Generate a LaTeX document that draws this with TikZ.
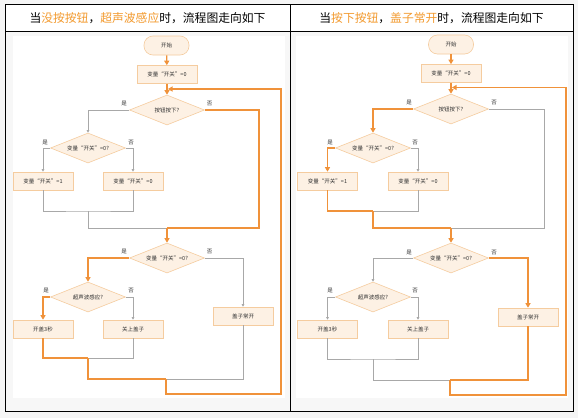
\documentclass[tikz,border=0pt]{standalone}
\usepackage{fontspec}
\setmainfont{Noto Sans CJK SC}
\usetikzlibrary{shapes.geometric,arrows.meta}
\definecolor{og}{HTML}{F0923A}
\definecolor{hog}{HTML}{F39A2E}
\definecolor{nfill}{HTML}{FDF1E4}
\definecolor{nbord}{HTML}{F5CC9F}
\definecolor{gl}{HTML}{A8A8A8}
\definecolor{pagebg}{HTML}{F5F5F5}
\definecolor{cellbg}{HTML}{F7F7F7}
\definecolor{txt}{HTML}{333333}
\tikzset{
  nodetext/.style={font=\fontsize{5.5}{6}\selectfont, text=txt},
  proc/.style={nodetext, rectangle, draw=nbord, fill=nfill, line width=0.6pt, minimum width=60pt, minimum height=18pt, inner sep=0pt},
  term/.style={nodetext, rectangle, rounded corners=9pt, draw=nbord, fill=nfill, line width=0.6pt, minimum width=45pt, minimum height=19pt, inner sep=0pt},
  dec/.style={nodetext, diamond, aspect=2.5, draw=nbord, fill=nfill, line width=0.6pt, minimum width=75pt, minimum height=30pt, inner sep=0pt},
  lab/.style={font=\fontsize{5.5}{6}\selectfont, text=txt, inner sep=0pt},
  ogl/.style={draw=og, line width=1.3pt},
  gyl/.style={draw=gl, line width=0.6pt},
  oga/.style={ogl, -{Triangle[length=4.5pt,width=5pt]}},
  gya/.style={gyl, -{Triangle[length=2.5pt,width=2.5pt]}},
  head/.style={font=\fontsize{11.8}{13}\selectfont, text=black, inner sep=0pt}
}
\begin{document}
\begin{tikzpicture}[x=1pt,y=-1pt]
\useasboundingbox (0,0) rectangle (578,418);
% backgrounds
\fill[pagebg] (0,0) rectangle (578,418);
\fill[white] (5,4.5) rectangle (573,31);
\fill[cellbg] (5,31) rectangle (573,411);
\fill[white] (13,36) rectangle (285,398);
\fill[white] (296,36) rectangle (568,398);
\draw[black, line width=0.9pt] (5,4.5) rectangle (573,411);
\draw[black, line width=0.9pt] (5,31) -- (573,31);
\draw[black, line width=0.9pt] (290,4.5) -- (290,411);
% headers
\node[head] (h1) at (147.5,18) {当\textcolor{hog}{没按按钮}，\textcolor{hog}{超声波感应}时，流程图走向如下};
\node[head] (h2) at (431.5,18) {当\textcolor{hog}{按下按钮}，\textcolor{hog}{盖子常开}时，流程图走向如下};

% ===== LEFT PANEL =====
\node[term] (L0) at (166.5,45.5) {开始};
\node[proc] (L1) at (167,74.5) {变量“开关”=0};
\node[dec] (Ld1) at (167,110) {按钮按下?};
\node[dec] (Ld2) at (88,148) {变量“开关”=0?};
\node[proc] (La) at (43,181) {变量“开关”=1};
\node[proc] (Lb) at (133,181) {变量“开关”=0};
\node[dec] (Ld3) at (167,258) {变量“开关”=0?};
\node[dec] (Ld4) at (88,297) {超声波感应?};
\node[proc] (Lc) at (43,329) {开盖3秒};
\node[proc] (Le) at (133,329) {关上盖子};
\node[proc] (Lf) at (243,316) {盖子常开};
\coordinate (Lj) at (168,89);
\coordinate (Lr) at (259,228);
\coordinate (Lm) at (167,228);
\coordinate (Lk) at (88,211);
\coordinate (Ln) at (88,358);
\coordinate (Lp) at (166,379);
\coordinate (Lq) at (281,394);
% labels
\node[lab] (Ll1) at (124,103.5) {是};
\node[lab] (Ll2) at (209.5,103.5) {否};
\node[lab] (Ll3) at (45,142.5) {是};
\node[lab] (Ll4) at (131,142.5) {否};
\node[lab] (Ll5) at (124,252) {是};
\node[lab] (Ll6) at (209.5,252) {否};
\node[lab] (Ll7) at (46,290.5) {是};
\node[lab] (Ll8) at (131,290.5) {否};
% connectors
\draw[oga] (L0) -- (L1);
\draw[oga] (L1) -- (Ld1);
\draw[gya] (Ld1.west) -| (Ld2.north);
\draw[ogl] (Ld1.east) -| (Lr) -- (Lm);
\draw[gya] (Ld2.west) -| (La.north);
\draw[gya] (Ld2.east) -| (Lb.north);
\draw[gyl] (La.south) |- (Lk) -| (Lb.south);
\draw[gyl] (Lk) |- (Lm);
\draw[oga] (Lm) -- (Ld3.north);
\draw[oga] (Ld3.west) -| (Ld4.north);
\draw[gya] (Ld3.east) -| (Lf.north);
\draw[oga] (Ld4.west) -| (Lc.north);
\draw[gya] (Ld4.east) -| (Le.north);
\draw[gyl] (Le.south) |- (Ln);
\draw[ogl] (Lc.south) |- (Ln);
\draw[gyl] (Lf.south) |- (Lp);
\draw[ogl] (Ln) |- (Lp);
\draw[oga] (Lp) |- (Lq) |- (Lj);

% ===== RIGHT PANEL =====
\node[term] (R0) at (451,44.5) {开始};
\node[proc] (R1) at (451,73.5) {变量“开关”=0};
\node[dec] (Rd1) at (451,109) {按钮按下?};
\node[dec] (Rd2) at (373,148) {变量“开关”=0?};
\node[proc] (Ra) at (327.5,181) {变量“开关”=1};
\node[proc] (Rb) at (418,181) {变量“开关”=0};
\node[dec] (Rd3) at (451,258) {变量“开关”=0?};
\node[dec] (Rd4) at (373,297) {超声波感应?};
\node[proc] (Rc) at (327.5,329) {开盖3秒};
\node[proc] (Re) at (418,329) {关上盖子};
\node[proc] (Rf) at (528,317) {盖子常开};
\coordinate (Rj) at (452,87.5);
\coordinate (Rr) at (544,228);
\coordinate (Rm) at (451,228);
\coordinate (Rk) at (373,211);
\coordinate (Rn) at (373,359);
\coordinate (Rp) at (450,380);
\coordinate (Rq) at (566,395);
% labels
\node[lab] (Rl1) at (409,103) {是};
\node[lab] (Rl2) at (494,103) {否};
\node[lab] (Rl3) at (330,142.5) {是};
\node[lab] (Rl4) at (415,142.5) {否};
\node[lab] (Rl5) at (409,252.5) {是};
\node[lab] (Rl6) at (494,252.5) {否};
\node[lab] (Rl7) at (330,290.5) {是};
\node[lab] (Rl8) at (415,290.5) {否};
% connectors
\draw[oga] (R0) -- (R1);
\draw[oga] (R1) -- (Rd1);
\draw[oga] (Rd1.west) -| (Rd2.north);
\draw[gyl] (Rd1.east) -| (Rr) -- (Rm);
\draw[oga] (Rd2.west) -| (Ra.north);
\draw[gya] (Rd2.east) -| (Rb.north);
\draw[gyl] (Rb.south) |- (Rk);
\draw[ogl] (Ra.south) |- (Rk);
\draw[ogl] (Rk) |- (Rm);
\draw[oga] (Rm) -- (Rd3.north);
\draw[gya] (Rd3.west) -| (Rd4.north);
\draw[oga] (Rd3.east) -| (Rf.north);
\draw[gya] (Rd4.west) -| (Rc.north);
\draw[gya] (Rd4.east) -| (Re.north);
\draw[gyl] (Rc.south) |- (Rn) -| (Re.south);
\draw[gyl] (Rn) |- (Rp);
\draw[ogl] (Rf.south) |- (Rp);
\draw[oga] (Rp) |- (Rq) |- (Rj);
\end{tikzpicture}
\end{document}
